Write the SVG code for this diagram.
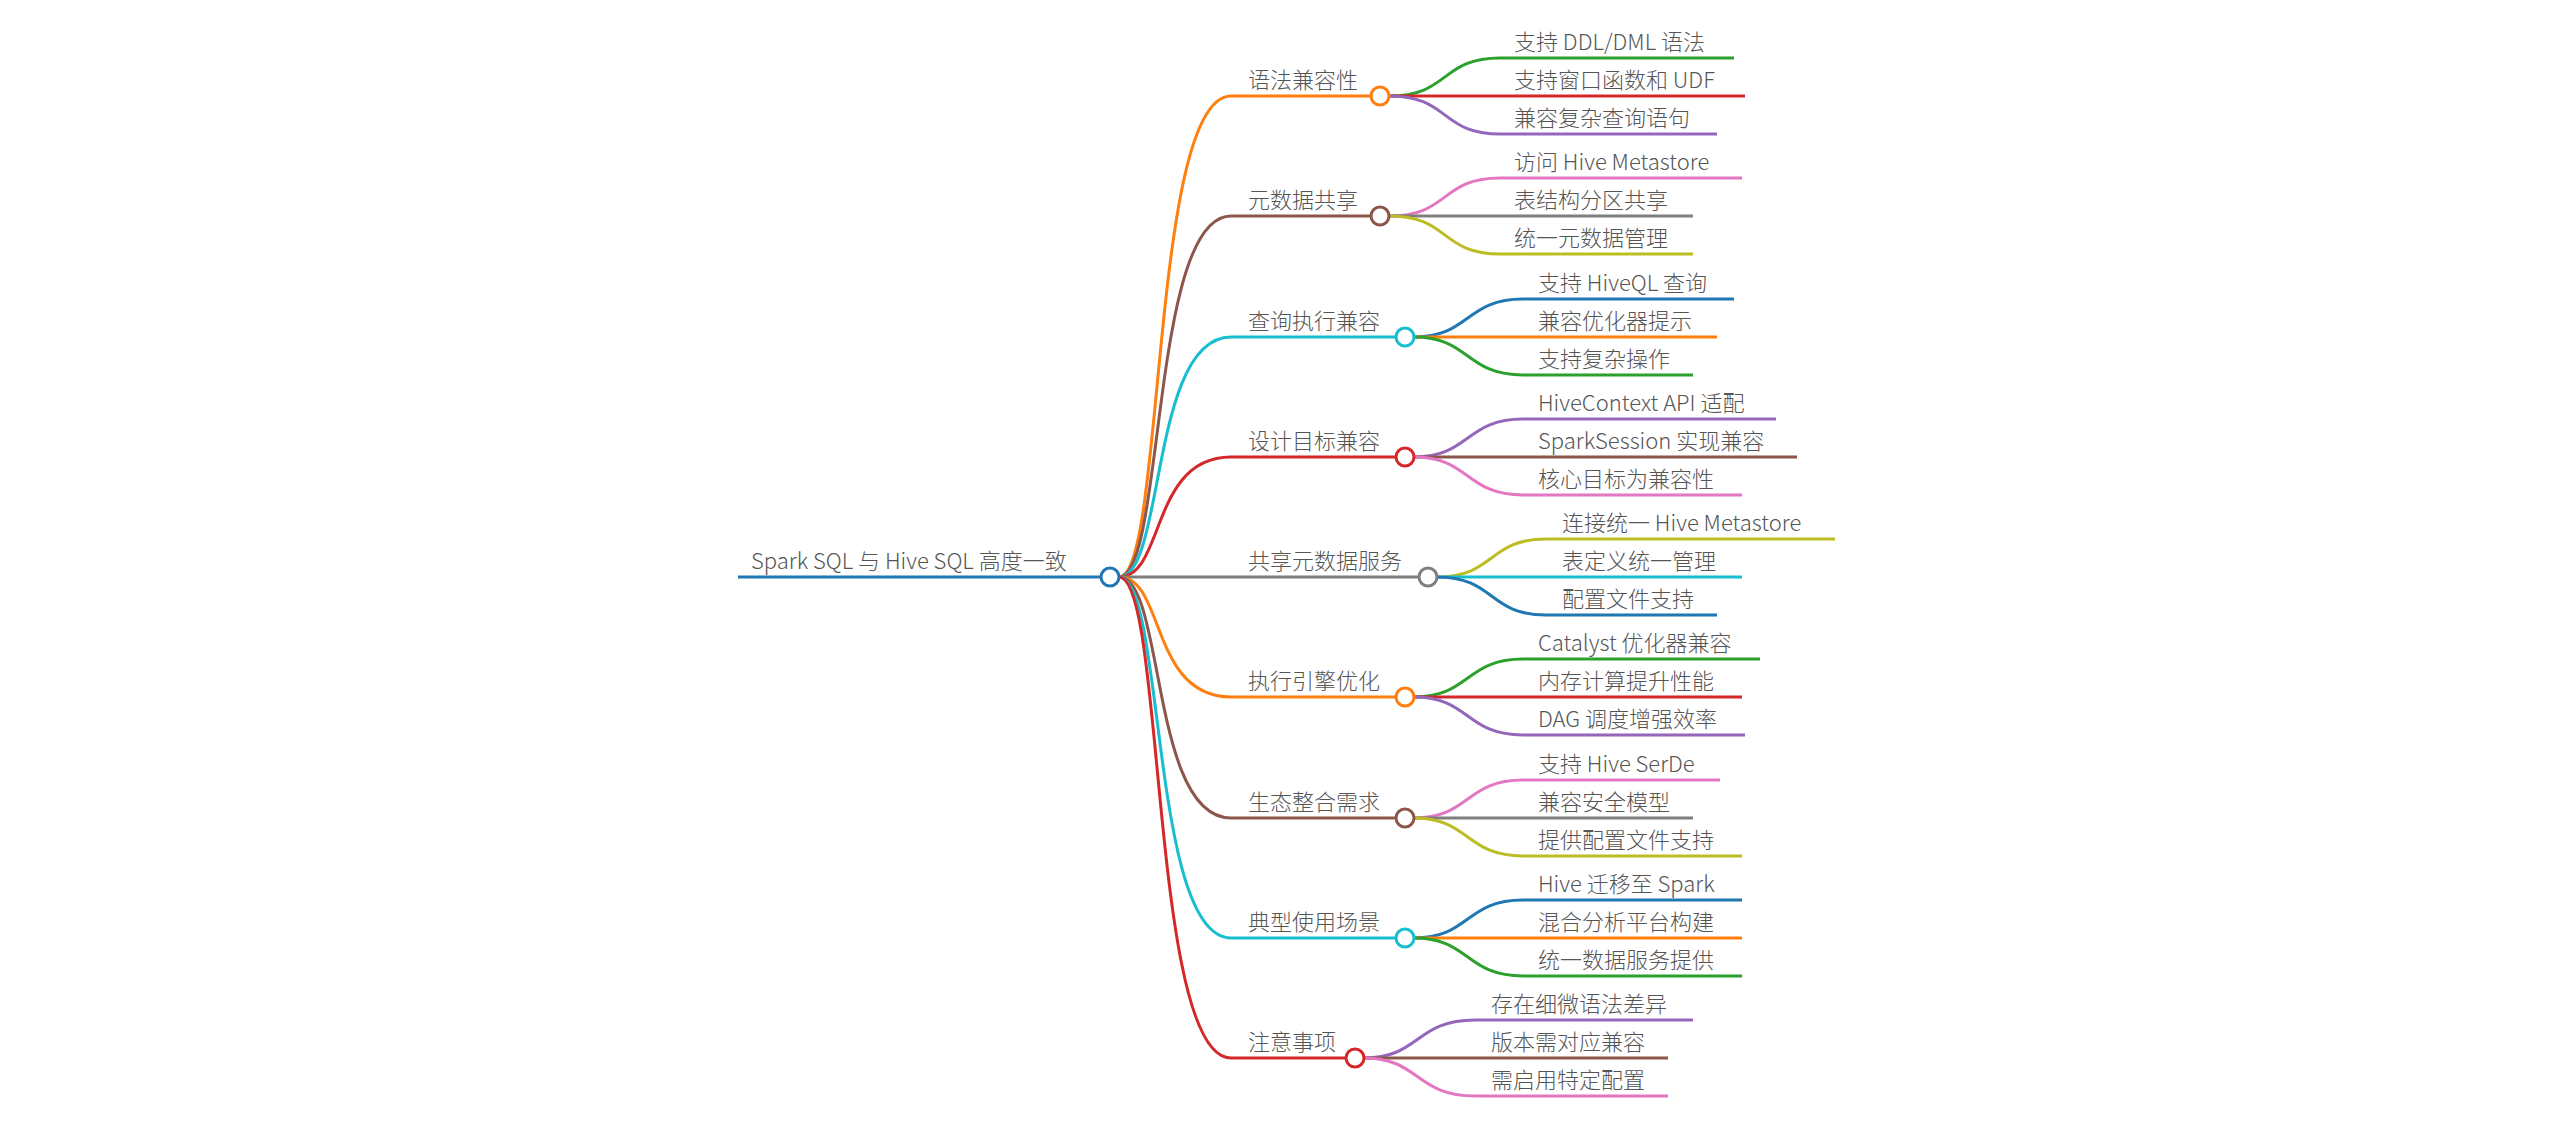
<svg xmlns="http://www.w3.org/2000/svg" width="2572" height="1124" viewBox="0 0 2572 1124">
<style>
text{font-family:"Noto Sans CJK SC","Noto Sans",sans-serif;font-size:22px;fill:#555;font-weight:300}
path{fill:none;stroke-width:3}
circle{fill:#fff;stroke-width:3}
</style>
<rect width="2572" height="1124" fill="#fff"/>
<g id="connectors">
<path d="M1119 577 C1165 577 1150 96 1231 96 L1371 96" stroke="#ff7f0e"/>
<path d="M1119 577 C1165 577 1150 216 1231 216 L1371 216" stroke="#8c564b"/>
<path d="M1119 577 C1165 577 1150 337 1231 337 L1396 337" stroke="#17becf"/>
<path d="M1119 577 C1165 577 1150 457 1231 457 L1396 457" stroke="#d62728"/>
<path d="M1119 577 L1419 577" stroke="#7f7f7f"/>
<path d="M1119 577 C1165 577 1150 697 1231 697 L1396 697" stroke="#ff7f0e"/>
<path d="M1119 577 C1165 577 1150 818 1231 818 L1396 818" stroke="#8c564b"/>
<path d="M1119 577 C1165 577 1150 938 1231 938 L1396 938" stroke="#17becf"/>
<path d="M1119 577 C1165 577 1150 1058 1231 1058 L1346 1058" stroke="#d62728"/>
<path d="M738 577 L1101 577" stroke="#1f77b4" stroke-width="3.5"/>
<!-- B1 -->
<path d="M1389 96 C1450 96 1440 58 1500 58 L1734 58" stroke="#2ca02c"/>
<path d="M1389 96 L1745 96" stroke="#d62728"/>
<path d="M1389 96 C1450 96 1440 134 1500 134 L1717 134" stroke="#9467bd"/>
<!-- B2 -->
<path d="M1389 216 C1450 216 1440 178 1500 178 L1742 178" stroke="#e377c2"/>
<path d="M1389 216 L1693 216" stroke="#7f7f7f"/>
<path d="M1389 216 C1450 216 1440 254 1500 254 L1693 254" stroke="#bcbd22"/>
<!-- B3 -->
<path d="M1414 337 C1470 337 1465 299 1523 299 L1734 299" stroke="#1f77b4"/>
<path d="M1414 337 L1717 337" stroke="#ff7f0e"/>
<path d="M1414 337 C1470 337 1465 375 1523 375 L1693 375" stroke="#2ca02c"/>
<!-- B4 -->
<path d="M1414 457 C1470 457 1465 419 1523 419 L1776 419" stroke="#9467bd"/>
<path d="M1414 457 L1797 457" stroke="#8c564b"/>
<path d="M1414 457 C1470 457 1465 495 1523 495 L1742 495" stroke="#e377c2"/>
<!-- B5 -->
<path d="M1437 577 C1495 577 1488 539 1546 539 L1835 539" stroke="#bcbd22"/>
<path d="M1437 577 L1742 577" stroke="#17becf"/>
<path d="M1437 577 C1495 577 1488 615 1546 615 L1717 615" stroke="#1f77b4"/>
<!-- B6 -->
<path d="M1414 697 C1470 697 1465 659 1523 659 L1760 659" stroke="#2ca02c"/>
<path d="M1414 697 L1742 697" stroke="#d62728"/>
<path d="M1414 697 C1470 697 1465 735 1523 735 L1745 735" stroke="#9467bd"/>
<!-- B7 -->
<path d="M1414 818 C1470 818 1465 780 1523 780 L1720 780" stroke="#e377c2"/>
<path d="M1414 818 L1693 818" stroke="#7f7f7f"/>
<path d="M1414 818 C1470 818 1465 856 1523 856 L1742 856" stroke="#bcbd22"/>
<!-- B8 -->
<path d="M1414 938 C1470 938 1465 900 1523 900 L1742 900" stroke="#1f77b4"/>
<path d="M1414 938 L1742 938" stroke="#ff7f0e"/>
<path d="M1414 938 C1470 938 1465 976 1523 976 L1742 976" stroke="#2ca02c"/>
<!-- B9 -->
<path d="M1364 1058 C1420 1058 1415 1020 1475 1020 L1693 1020" stroke="#9467bd"/>
<path d="M1364 1058 L1668 1058" stroke="#8c564b"/>
<path d="M1364 1058 C1420 1058 1415 1096 1475 1096 L1668 1096" stroke="#e377c2"/>
</g>
<g id="root"><text x="751" y="569">Spark SQL 与 Hive SQL 高度一致</text><circle cx="1110" cy="577" r="9" stroke="#1f77b4"/></g>
<g id="b1"><text x="1248" y="88">语法兼容性</text><circle cx="1380" cy="96" r="9" stroke="#ff7f0e"/></g>
<g id="b2"><text x="1248" y="208">元数据共享</text><circle cx="1380" cy="216" r="9" stroke="#8c564b"/></g>
<g id="b3"><text x="1248" y="329">查询执行兼容</text><circle cx="1405" cy="337" r="9" stroke="#17becf"/></g>
<g id="b4"><text x="1248" y="449">设计目标兼容</text><circle cx="1405" cy="457" r="9" stroke="#d62728"/></g>
<g id="b5"><text x="1248" y="569">共享元数据服务</text><circle cx="1428" cy="577" r="9" stroke="#7f7f7f"/></g>
<g id="b6"><text x="1248" y="689">执行引擎优化</text><circle cx="1405" cy="697" r="9" stroke="#ff7f0e"/></g>
<g id="b7"><text x="1248" y="810">生态整合需求</text><circle cx="1405" cy="818" r="9" stroke="#8c564b"/></g>
<g id="b8"><text x="1248" y="930">典型使用场景</text><circle cx="1405" cy="938" r="9" stroke="#17becf"/></g>
<g id="b9"><text x="1248" y="1050">注意事项</text><circle cx="1355" cy="1058" r="9" stroke="#d62728"/></g>
<g id="leaves">
<text x="1514" y="50">支持 DDL/DML 语法</text>
<text x="1514" y="88">支持窗口函数和 UDF</text>
<text x="1514" y="126">兼容复杂查询语句</text>
<text x="1514" y="170">访问 Hive Metastore</text>
<text x="1514" y="208">表结构分区共享</text>
<text x="1514" y="246">统一元数据管理</text>
<text x="1538" y="291">支持 HiveQL 查询</text>
<text x="1538" y="329">兼容优化器提示</text>
<text x="1538" y="367">支持复杂操作</text>
<text x="1538" y="411">HiveContext API 适配</text>
<text x="1538" y="449">SparkSession 实现兼容</text>
<text x="1538" y="487">核心目标为兼容性</text>
<text x="1562" y="531">连接统一 Hive Metastore</text>
<text x="1562" y="569">表定义统一管理</text>
<text x="1562" y="607">配置文件支持</text>
<text x="1538" y="651">Catalyst 优化器兼容</text>
<text x="1538" y="689">内存计算提升性能</text>
<text x="1538" y="727">DAG 调度增强效率</text>
<text x="1538" y="772">支持 Hive SerDe</text>
<text x="1538" y="810">兼容安全模型</text>
<text x="1538" y="848">提供配置文件支持</text>
<text x="1538" y="892">Hive 迁移至 Spark</text>
<text x="1538" y="930">混合分析平台构建</text>
<text x="1538" y="968">统一数据服务提供</text>
<text x="1491" y="1012">存在细微语法差异</text>
<text x="1491" y="1050">版本需对应兼容</text>
<text x="1491" y="1088">需启用特定配置</text>
</g>
</svg>
